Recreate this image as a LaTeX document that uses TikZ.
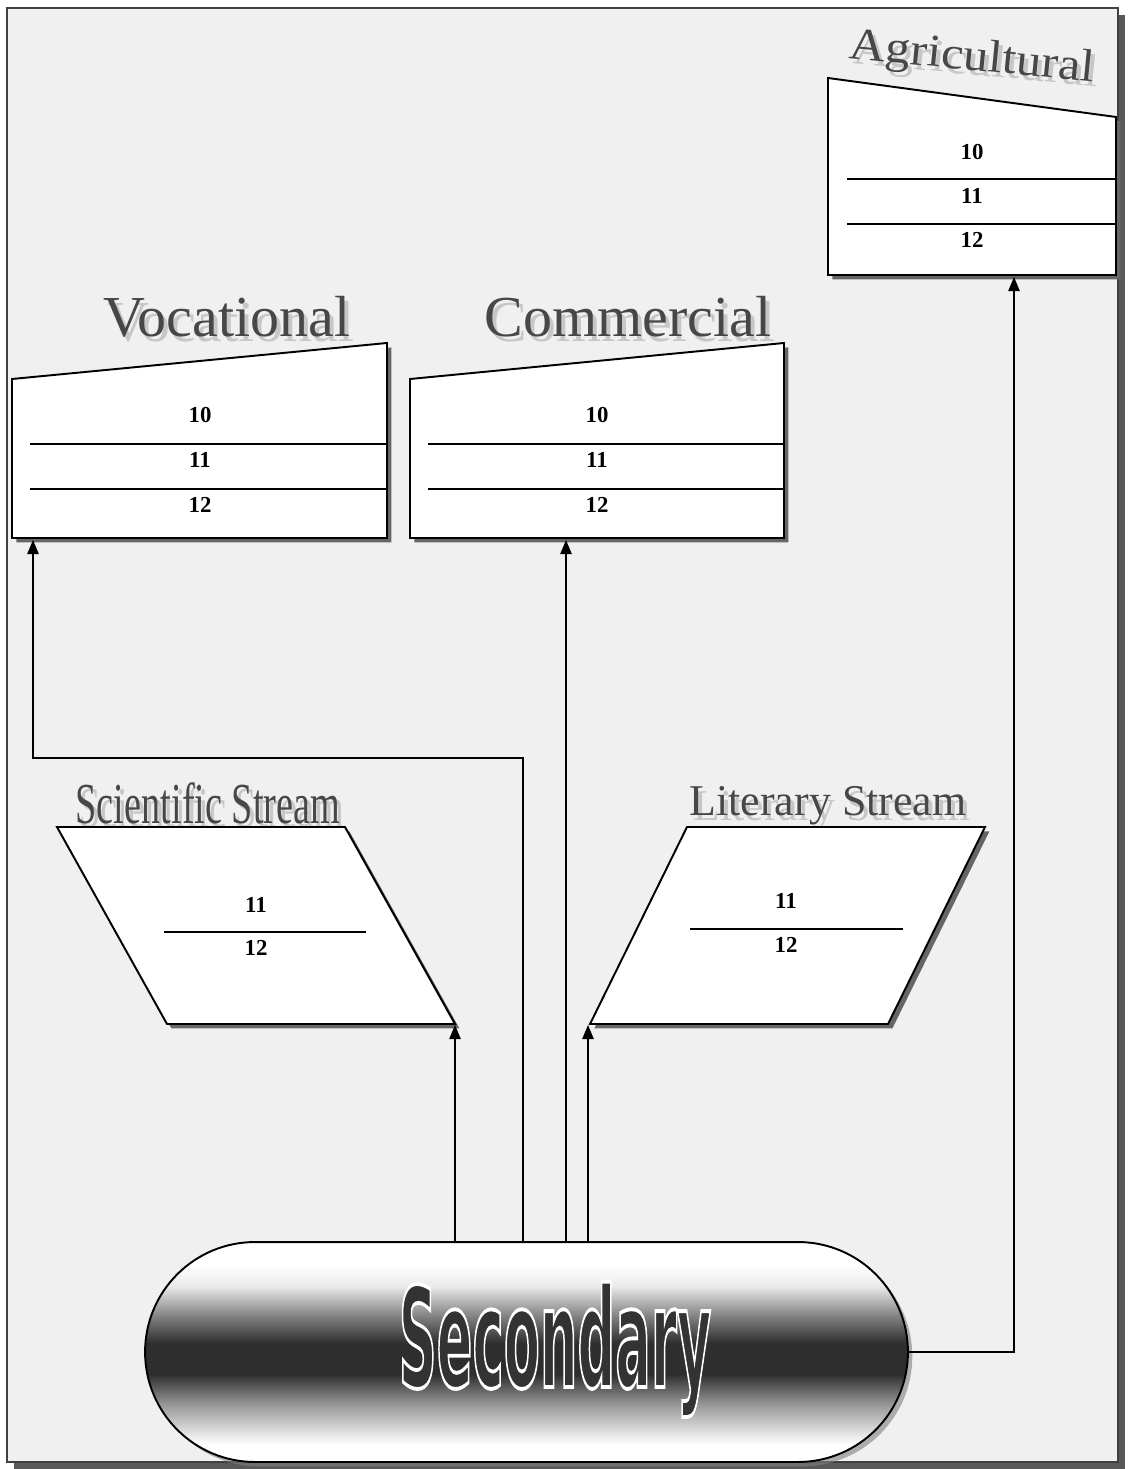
\documentclass[tikz,border=0pt]{standalone}
\usepackage{fontspec}
\setmainfont{Liberation Serif}
\newfontfamily\heavyfont{DejaVu Sans}
\usetikzlibrary{shadows,arrows.meta}

\pgfdeclareverticalshading{pillshade}{100bp}{color(0bp)=(white); color(29bp)=(white); color(38bp)=(black!40); color(45bp)=(black!82); color(52bp)=(black!82); color(58bp)=(black!50); color(65bp)=(black!8); color(70bp)=(white); color(100bp)=(white)}

\newcommand\bigtitle{\fontsize{33}{36}\selectfont}
\newcommand\agrtitle{\fontsize{26}{30}\selectfont}
\newcommand\scititle{\fontsize{33}{36}\selectfont}
\newcommand\littitle{\fontsize{25}{28}\selectfont}
\newcommand\outlined[1]{\special{pdf:literal direct 2 Tr 1 1 1 RG 2.2 w}#1\special{pdf:literal direct 0 Tr 0 0 0 RG 0.4 w}}

\begin{document}
\begin{tikzpicture}[x=0.02cm, y=-0.02cm,
    frame/.style={draw=black!75, line width=1.6pt, fill=black!6, drop shadow={shadow xshift=4.2pt, shadow yshift=-4.2pt, opacity=1, fill=black!65}},
    box/.style={draw=black, line width=1.1pt, fill=white, drop shadow={shadow xshift=2.5pt, shadow yshift=-2.5pt, opacity=1, fill=black!60}},
    row/.style={draw=black, line width=0.8pt},
    num/.style={font=\fontsize{13}{15}\selectfont\bfseries, inner sep=0pt},
    title/.style={text=black!72, inner sep=0pt, anchor=base},
    ghost/.style={text=black!22, inner sep=0pt, anchor=base},
    arr/.style={draw=black, line width=0.7pt, -{Triangle[length=8pt,width=6.5pt]}}]
\useasboundingbox (0,0) rectangle (1128,1469);
\fill[white] (0,0) rectangle (1128,1469);
\draw[frame] (7,8) rectangle (1118,1462);

% titles
\node[ghost, font=\bigtitle] (vocg) at (231,342) {Vocational};
\node[title, font=\bigtitle] (voct) at (227,337) {Vocational};
\node[ghost, font=\bigtitle] (comg) at (632,342) {Commercial};
\node[title, font=\bigtitle] (comt) at (628,337) {Commercial};
\node[ghost, font=\agrtitle, rotate=-5.5] (agrg) at (975,75) {\scalebox{1.1}[1]{Agricultural}};
\node[title, font=\agrtitle, rotate=-5.5] (agrt) at (971,70) {\scalebox{1.1}[1]{Agricultural}};
\node[ghost, font=\scititle] (scig) at (212,827) {\scalebox{0.66}[1]{Scientific Stream}};
\node[title, font=\scititle] (scit) at (208,823) {\scalebox{0.66}[1]{Scientific Stream}};
\node[ghost, font=\littitle] (litg) at (832,820) {Literary Stream};
\node[title, font=\littitle] (litt) at (828,815) {Literary Stream};

% boxes
\draw[box] (12,538) -- (387,538) -- (387,343) -- (12,379) -- cycle;
\draw[row] (30,444) -- (387,444);
\draw[row] (30,489) -- (387,489);
\node[num] (voc10) at (200,415) {10};
\node[num] (voc11) at (200,460) {11};
\node[num] (voc12) at (200,505) {12};

\draw[box] (410,538) -- (784,538) -- (784,343) -- (410,379) -- cycle;
\draw[row] (428,444) -- (784,444);
\draw[row] (428,489) -- (784,489);
\node[num] (com10) at (597,415) {10};
\node[num] (com11) at (597,460) {11};
\node[num] (com12) at (597,505) {12};

\draw[box] (828,275) -- (1116,275) -- (1116,117) -- (828,78) -- cycle;
\draw[row] (847,179) -- (1116,179);
\draw[row] (847,224) -- (1116,224);
\node[num] (agr10) at (972,152) {10};
\node[num] (agr11) at (972,196) {11};
\node[num] (agr12) at (972,240) {12};

\draw[box] (167,1024) -- (455,1024) -- (345,827) -- (57,827) -- cycle;
\draw[row] (164,932) -- (366,932);
\node[num] (sci11) at (256,905) {11};
\node[num] (sci12) at (256,948) {12};

\draw[box] (590,1024) -- (888,1024) -- (985,827) -- (687,827) -- cycle;
\draw[row] (690,929) -- (903,929);
\node[num] (lit11) at (786,901) {11};
\node[num] (lit12) at (786,945) {12};

% secondary
\node[draw=black, line width=1.1pt, shading=pillshade, rounded corners=2.2cm,
      minimum width=15.26cm, minimum height=4.4cm,
      drop shadow={shadow xshift=2.5pt, shadow yshift=-2.5pt, opacity=0.6, fill=black!50}] (sec) at (526.5,1352) {};

% connectors
\coordinate (vocin) at (33,540);
\coordinate (comin) at (566,540);
\coordinate (agrin) at (1014,277);
\coordinate (sciin) at (455,1025);
\coordinate (litin) at (588,1025);
\coordinate (bend) at (523,758);
\draw[arr] (sec.north -| bend) -- (bend) -| (vocin);
\draw[arr] (sec.north -| sciin) -- (sciin);
\draw[arr] (sec.north -| comin) -- (comin);
\draw[arr] (sec.north -| litin) -- (litin);
\draw[arr] (sec.east) -| (agrin);

\node[inner sep=0pt, anchor=base, text=black!80] (sect) at (555,1387) {\heavyfont\bfseries\fontsize{79}{80}\selectfont\scalebox{0.38}[1]{\outlined{Secondary}}};
\end{tikzpicture}
\end{document}
